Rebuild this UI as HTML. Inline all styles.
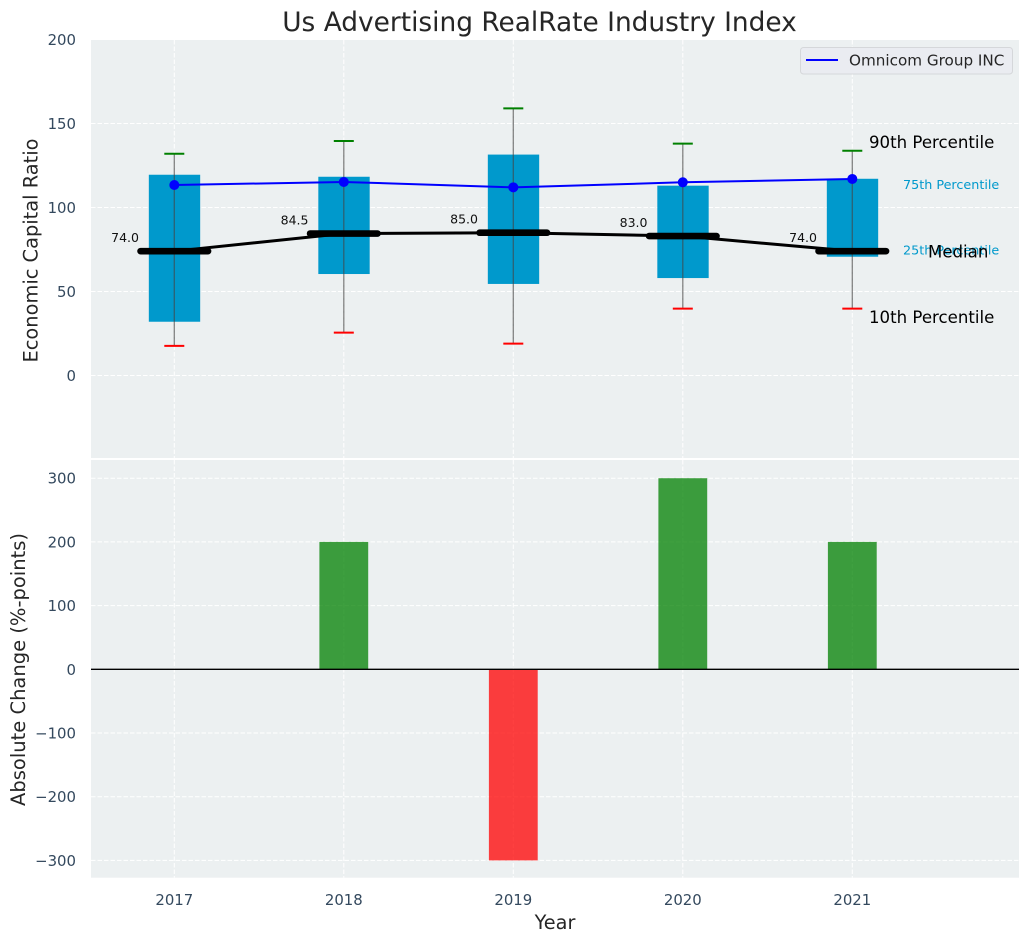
<!DOCTYPE html>
<html>
<head>
<meta charset="utf-8">
<title>Us Advertising RealRate Industry Index</title>
<style>
html,body{margin:0;padding:0;background:#fff;width:1029px;height:942px;overflow:hidden}
svg{display:block}
text{font-family:"DejaVu Sans","Liberation Sans",sans-serif}
</style>
</head>
<body>
<svg id="chart" xmlns="http://www.w3.org/2000/svg" width="1029" height="942" viewBox="0 0 1029 942"></svg>
<script>
const years = [2017, 2018, 2019, 2020, 2021];
const p90 = [132, 139.6, 159, 138, 133.8];
const p75 = [119.5, 118.3, 131.5, 113, 117.1];
const medians = [74, 84.5, 85, 83, 74];
const p25 = [32, 60.4, 54.5, 58, 70.7];
const p10 = [17.6, 25.5, 19, 39.8, 39.8];
const omnicom = [113.4, 115.2, 112, 115, 117];
const changes = [0, 200, -300, 300, 200];
const topTicks = [0, 50, 100, 150, 200];
const bottomTicks = [-300, -200, -100, 0, 100, 200, 300];

const NS = 'http://www.w3.org/2000/svg';
const svg = document.getElementById('chart');
const L = 91, R = 1019;
const x = v => 174.3 + (v - 2017) * 169.5;
const yTop = v => 375.5 - v * 1.68;
const yBot = v => 669.3 - v * 0.637;
const fmtTick = v => (v < 0 ? '\u2212' + Math.abs(v) : String(v));

function mk(tag, attrs, text) {
  const el = document.createElementNS(NS, tag);
  for (const k in attrs) el.setAttribute(k, attrs[k]);
  if (text !== undefined) el.textContent = text;
  svg.appendChild(el);
  return el;
}
function name(el, n, inter) {
  
  
  return el;
}
const GRID = {stroke: '#ffffff', 'stroke-width': 1, 'stroke-dasharray': '4.5 2', opacity: 1};
const TICK = '#34495e';

/* panels */
name(mk('rect', {x: L, y: 40, width: R - L, height: 418, fill: '#ecf0f1'}), 'top-panel');
name(mk('rect', {x: L, y: 460, width: R - L, height: 417.7, fill: '#ecf0f1'}), 'bottom-panel');

/* grid lines */
years.forEach(v => {
  name(mk('line', Object.assign({x1: x(v), x2: x(v), y1: 40, y2: 458}, GRID)), 'top-x-gridline');
  name(mk('line', Object.assign({x1: x(v), x2: x(v), y1: 460, y2: 877.7}, GRID)), 'bottom-x-gridline');
});
topTicks.forEach(v => {
  name(mk('line', Object.assign({x1: L, x2: R, y1: yTop(v), y2: yTop(v)}, GRID)), 'top-y-gridline');
  name(mk('text', {x: 76, y: yTop(v) + 5.5, 'text-anchor': 'end', 'font-size': 14.9, fill: TICK}, fmtTick(v)), 'top-y-tick-label');
});
bottomTicks.forEach(v => {
  name(mk('line', Object.assign({x1: L, x2: R, y1: yBot(v), y2: yBot(v)}, GRID)), 'bottom-y-gridline');
  name(mk('text', {x: 76, y: yBot(v) + 5.5, 'text-anchor': 'end', 'font-size': 14.9, fill: TICK}, fmtTick(v)), 'bottom-y-tick-label');
});
years.forEach(v => {
  name(mk('text', {x: x(v), y: 905, 'text-anchor': 'middle', 'font-size': 14.9, fill: TICK}, String(v)), 'x-tick-label');
});

/* percentile boxes */
const BOX = 0.303 * 169.5;
years.forEach((v, i) => {
  name(mk('rect', {x: x(v) + 0.2 - BOX / 2, y: yTop(p75[i]), width: BOX, height: yTop(p25[i]) - yTop(p75[i]), fill: '#0099cc'}), 'box-' + v);
});

/* median connecting line */
name(mk('polyline', {points: years.map((v, i) => x(v) + ',' + yTop(medians[i])).join(' '), fill: 'none', stroke: '#000', 'stroke-width': 3}), 'median-line');

/* whiskers */
years.forEach((v, i) => {
  name(mk('line', {x1: x(v), x2: x(v), y1: yTop(p90[i]), y2: yTop(p10[i]), stroke: '#444', 'stroke-width': 1.3, opacity: 0.65}), 'whisker-' + v);
  name(mk('line', {x1: x(v) - 10, x2: x(v) + 10, y1: yTop(p90[i]), y2: yTop(p90[i]), stroke: '#008000', 'stroke-width': 2}), 'cap-p90-' + v);
  name(mk('line', {x1: x(v) - 10, x2: x(v) + 10, y1: yTop(p10[i]), y2: yTop(p10[i]), stroke: '#ff0000', 'stroke-width': 2}), 'cap-p10-' + v);
});

/* median bars and labels */
years.forEach((v, i) => {
  name(mk('line', {x1: x(v) - 33.7, x2: x(v) + 33.7, y1: yTop(medians[i]), y2: yTop(medians[i]), stroke: '#000', 'stroke-width': 6.7, 'stroke-linecap': 'round'}), 'median-bar-' + v);
  name(mk('text', {x: x(v) - 35.3, y: yTop(medians[i]) - 9, 'text-anchor': 'end', 'font-size': 12.5, fill: '#111'}, medians[i].toFixed(1)), 'median-value-' + v);
});

/* company line */
name(mk('polyline', {points: years.map((v, i) => x(v) + ',' + yTop(omnicom[i])).join(' '), fill: 'none', stroke: '#0000ff', 'stroke-width': 2}), 'omnicom-line');
years.forEach((v, i) => {
  name(mk('circle', {cx: x(v), cy: yTop(omnicom[i]), r: 5, fill: '#0000ff'}), 'omnicom-point-' + v);
});

/* percentile annotations */
name(mk('text', {x: 869, y: 148, 'font-size': 16.6, fill: '#000'}, '90th Percentile'), 'label-90th');
name(mk('text', {x: 903, y: 189, 'font-size': 12.75, fill: '#0099cc'}, '75th Percentile'), 'label-75th');
name(mk('text', {x: 903, y: 254.5, 'font-size': 12.75, fill: '#0099cc'}, '25th Percentile'), 'label-25th');
name(mk('text', {x: 928, y: 257.5, 'font-size': 16.6, fill: '#000'}, 'Median'), 'label-median');
name(mk('text', {x: 869, y: 323, 'font-size': 16.6, fill: '#000'}, '10th Percentile'), 'label-10th');

/* bottom bars */
const BAR = 0.288 * 169.5;
years.forEach((v, i) => {
  if (changes[i] === 0) return;
  const top = Math.min(yBot(changes[i]), yBot(0));
  const h = Math.abs(yBot(changes[i]) - yBot(0));
  name(mk('rect', {x: x(v) - BAR / 2, y: top, width: BAR, height: h, fill: changes[i] > 0 ? '#008000' : '#ff0000', opacity: 0.75}), 'change-bar-' + v);
});
name(mk('line', {x1: L, x2: R, y1: yBot(0), y2: yBot(0), stroke: '#000', 'stroke-width': 1.3}), 'zero-line');

/* legend */
name(mk('rect', {x: 800.5, y: 47.5, width: 212, height: 26.5, rx: 3, fill: '#eaecf1', stroke: '#d5d7da', 'stroke-width': 1}), 'legend-box');
name(mk('line', {x1: 806, x2: 838, y1: 60, y2: 60, stroke: '#0000ff', 'stroke-width': 2}), 'legend-line');
name(mk('text', {x: 849, y: 65.5, 'font-size': 15.2, fill: '#262626'}, 'Omnicom Group INC'), 'legend-label');

/* titles */
name(mk('text', {x: 539.5, y: 31, 'text-anchor': 'middle', 'font-size': 26.4, fill: '#262626'}, 'Us Advertising RealRate Industry Index'), 'chart-title');
name(mk('text', {x: 555, y: 929, 'text-anchor': 'middle', 'font-size': 19.3, fill: '#262626'}, 'Year'), 'x-axis-title');
name(mk('text', {transform: 'translate(37.5,250.5) rotate(-90)', 'text-anchor': 'middle', 'font-size': 19.4, fill: '#262626'}, 'Economic Capital Ratio'), 'top-y-axis-title');
name(mk('text', {transform: 'translate(25,669.5) rotate(-90)', 'text-anchor': 'middle', 'font-size': 19.5, fill: '#262626'}, 'Absolute Change (%-points)'), 'bottom-y-axis-title');
</script>
</body>
</html>
